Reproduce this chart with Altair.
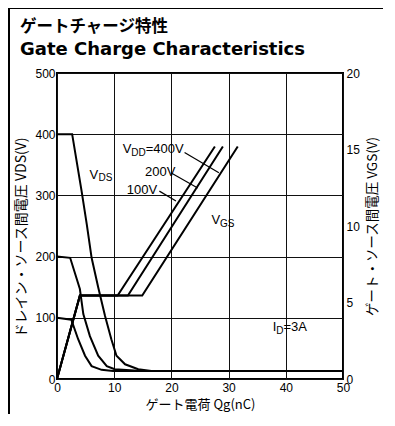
import altair as alt
import pandas as pd

# ---- data ----
# Drain-source voltage curves (left axis, V)
qg_vds_100 = [0, 2.5, 3.7, 4.9, 6.05, 7.8, 9.8, 14, 20, 50]
vds_100 = [100, 97, 65, 38, 21, 15, 13, 13, 13, 13]
qg_vds_200 = [0, 2.3, 4.0, 4.6, 5.75, 7.2, 8.7, 10.1, 14.8, 20, 50]
vds_200 = [200, 198, 147, 106, 70, 38, 21, 16, 13, 13, 13]
qg_vds_400 = [0, 2.65, 4.3, 5.2, 6.05, 7.2, 8.4, 9.5, 10.4, 11.9, 14.2, 16.5, 20, 50]
vds_400 = [400, 400, 307, 253, 198, 150, 103, 65, 38, 24, 16, 13, 13, 13]

# Gate-source voltage curves (right axis, V)
qg_vgs_100 = [0, 4.0, 10.6, 27.6]
vgs_100 = [0, 5.45, 5.45, 15.2]
qg_vgs_200 = [0, 4.0, 12.4, 29.0]
vgs_200 = [0, 5.45, 5.45, 15.2]
qg_vgs_400 = [0, 4.0, 14.9, 31.6]
vgs_400 = [0, 5.45, 5.45, 15.2]

# Leader lines from the VDD labels (left-axis units)
leader_names = ["400V", "400V", "200V", "200V", "100V", "100V"]
leader_qg = [22.3, 28.3, 19.9, 24.6, 17.9, 20.8]
leader_v = [370, 337, 337, 312, 307, 291]

# Annotations (text, Qg, VDS position, font size)
ann_text = ["V", "DS", "V", "DD", "=400V", "200V", "100V", "V", "GS", "I", "D", "=3A"]
ann_qg = [5.7, 7.25, 11.5, 13.0, 15.5, 15.4, 12.2, 27.0, 28.5, 37.7, 38.35, 39.6]
ann_v = [327, 323, 369, 365, 369, 332, 302, 253, 249, 78, 74, 78]
ann_size = [13, 10, 13, 10, 13, 13, 13, 13, 10, 13, 10, 13]

# titles
title_jp = "ゲートチャージ特性"
title_en = "Gate Charge Characteristics"

# axis tick values
x_ticks = list(range(0, 51, 5))
y_left_ticks = list(range(0, 501, 25))
y_right_ticks = [0, 5, 10, 15, 20]

# ---- tables ----
vds_rows = []
for name, qs, vs in [("100V", qg_vds_100, vds_100), ("200V", qg_vds_200, vds_200), ("400V", qg_vds_400, vds_400)]:
    for i, (q, v) in enumerate(zip(qs, vs)):
        vds_rows.append({"qg": q, "v": v, "series": name, "order": i})
vds_df = pd.DataFrame(vds_rows)

vgs_rows = []
for name, qs, vs in [("100V", qg_vgs_100, vgs_100), ("200V", qg_vgs_200, vgs_200), ("400V", qg_vgs_400, vgs_400)]:
    for i, (q, v) in enumerate(zip(qs, vs)):
        vgs_rows.append({"qg": q, "v": v, "series": name, "order": i})
vgs_df = pd.DataFrame(vgs_rows)

lead_df = pd.DataFrame({"qg": leader_qg, "v": leader_v, "series": leader_names})
ann_df = pd.DataFrame({"text": ann_text, "qg": ann_qg, "v": ann_v, "size": ann_size})
one = pd.DataFrame({"k": [0]})

W, H = 286, 306
LABEL_FONT = "Liberation Sans"
JP_FONT = "Noto Sans CJK JP"

x_scale = alt.Scale(domain=[0, 50], nice=False)
yl_scale = alt.Scale(domain=[0, 500], nice=False)
yr_scale = alt.Scale(domain=[0, 20], nice=False)

x_axis = alt.Axis(
    values=x_ticks, labelExpr="datum.value % 10 == 0 ? datum.label : ''",
    grid=True, ticks=False, domain=False, labelPadding=3,
    title="ゲート電荷 Qg(nC)", titlePadding=5, labelFlush=False,
)
yl_axis = alt.Axis(
    values=y_left_ticks, labelExpr="datum.value % 100 == 0 ? datum.label : ''",
    grid=True, ticks=False, domain=False, labelPadding=2,
    title="ドレイン・ソース間電圧 VDS(V)", titlePadding=6, labelFlush=False,
    titleFontSize=14, titleY=164,
)
yr_axis = alt.Axis(
    values=y_right_ticks, orient="right", grid=False, ticks=False, domain=False,
    labelPadding=3, title="ゲート・ソース間電圧 VGS(V)", titleAngle=270,
    titleBaseline="top", titlePadding=6, labelFlush=False, titleFontSize=13.5,
)

vds = alt.Chart(vds_df).mark_line(color="black", strokeWidth=2).encode(
    x=alt.X("qg:Q", scale=x_scale, axis=x_axis),
    y=alt.Y("v:Q", scale=yl_scale, axis=yl_axis),
    detail="series:N",
    order="order:Q",
)

leaders = alt.Chart(lead_df).mark_line(color="black", strokeWidth=1.2).encode(
    x=alt.X("qg:Q", scale=x_scale),
    y=alt.Y("v:Q", scale=yl_scale),
    detail="series:N",
)

texts = alt.Chart(ann_df).mark_text(
    align="left", baseline="alphabetic", font=LABEL_FONT, color="black"
).encode(
    x=alt.X("qg:Q", scale=x_scale),
    y=alt.Y("v:Q", scale=yl_scale),
    text="text:N",
    size=alt.Size("size:Q", scale=None),
)

left = alt.layer(vds, leaders, texts)

vgs = alt.Chart(vgs_df).mark_line(color="black", strokeWidth=2).encode(
    x=alt.X("qg:Q", scale=x_scale),
    y=alt.Y("v:Q", scale=yr_scale, axis=yr_axis),
    detail="series:N",
    order="order:Q",
)

t_jp = alt.Chart(one).mark_text(
    align="left", baseline="alphabetic", font=JP_FONT, fontSize=16.5, fontWeight="bold", color="black"
).encode(x=alt.value(-37), y=alt.value(-41), text=alt.value(title_jp))
t_en = alt.Chart(one).mark_text(
    align="left", baseline="alphabetic", font="DejaVu Sans", fontSize=18, fontWeight="bold", color="black"
).encode(x=alt.value(-37), y=alt.value(-18), text=alt.value(title_en))

border_l = alt.Chart(one).mark_rule(color="black", strokeWidth=2).encode(
    x=alt.value(-48), y=alt.value(-66), y2=alt.value(H + 40)
)
border_t = alt.Chart(one).mark_rule(color="black", strokeWidth=1).encode(
    x=alt.value(-48), x2=alt.value(W + 40), y=alt.value(-64.5)
)

chart = alt.layer(left, vgs, t_jp, t_en, border_l, border_t).resolve_scale(y="independent").properties(
    width=W, height=H,
    autosize=alt.AutoSizeParams(type="none"),
    padding={"left": 49, "top": 65, "right": 40, "bottom": 35},
    background="white",
).configure_view(
    stroke="black", strokeWidth=2
).configure_axis(
    labelFont=LABEL_FONT, labelFontSize=12, labelColor="black",
    titleFont=JP_FONT, titleFontSize=13, titleFontWeight="normal", titleColor="black",
    gridColor="#111", gridWidth=1, gridOpacity=1,
)

chart.save("out.html", embed_options={"renderer": "svg", "actions": False})
